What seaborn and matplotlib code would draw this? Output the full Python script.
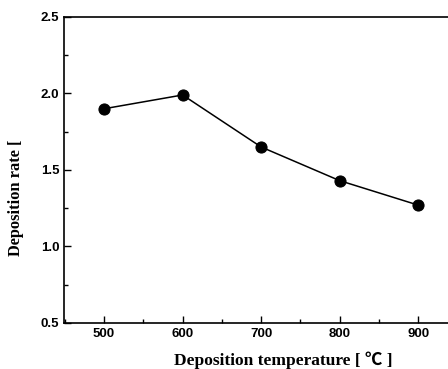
import matplotlib
matplotlib.use("Agg")
import matplotlib.pyplot as plt
import seaborn as sns
import pandas as pd
from matplotlib.ticker import MultipleLocator

temperature = [500, 600, 700, 800, 900]
rate = [1.90, 1.99, 1.65, 1.43, 1.27]

sns.set_theme(style="ticks")
plt.rcParams['font.family'] = ['Liberation Sans', 'DejaVu Sans']
plt.rcParams['text.color'] = 'black'
plt.rcParams['axes.labelcolor'] = 'black'

df = pd.DataFrame({"T": temperature, "R": rate})
fig = plt.figure(figsize=(4.48, 3.69), dpi=100)
ax = fig.add_axes([0.143, 0.125, 0.857, 0.829])
sns.lineplot(data=df, x="T", y="R", ax=ax, color="black", marker="o",
             markersize=8, linewidth=1.1, markeredgecolor="black")
ax.set_xlim(449, 938)
ax.set_ylim(0.5, 2.5)
ax.set_xticks([500, 600, 700, 800, 900])
ax.set_yticks([0.5, 1.0, 1.5, 2.0, 2.5])
ax.xaxis.set_minor_locator(MultipleLocator(50))
ax.yaxis.set_minor_locator(MultipleLocator(0.25))
ax.tick_params(which="both", direction="in", top=False, right=False, width=1,
               colors="black", labelcolor="black")
ax.tick_params(which="major", length=5, labelsize=9.5)
ax.tick_params(which="minor", length=3)
for lab in ax.get_xticklabels() + ax.get_yticklabels():
    lab.set_fontweight("bold")
ax.spines['right'].set_visible(False)
for s in ['left', 'bottom', 'top']:
    ax.spines[s].set_linewidth(1.2)
    ax.spines[s].set_color("black")
ax.set_xlabel("Deposition temperature [ \u2103 ]", fontsize=12.5, fontweight="bold",
              family=['Liberation Serif', 'Noto Sans CJK SC'])
ax.xaxis.set_label_coords(0.57, -0.095)
ax.xaxis.label.set_va("top")
ax.set_ylabel("Deposition rate [", fontsize=11.8, fontweight="bold",
              family=['Liberation Serif'])
ax.yaxis.set_label_coords(-0.105, 0.41)
fig.savefig("out.png", dpi=100)
